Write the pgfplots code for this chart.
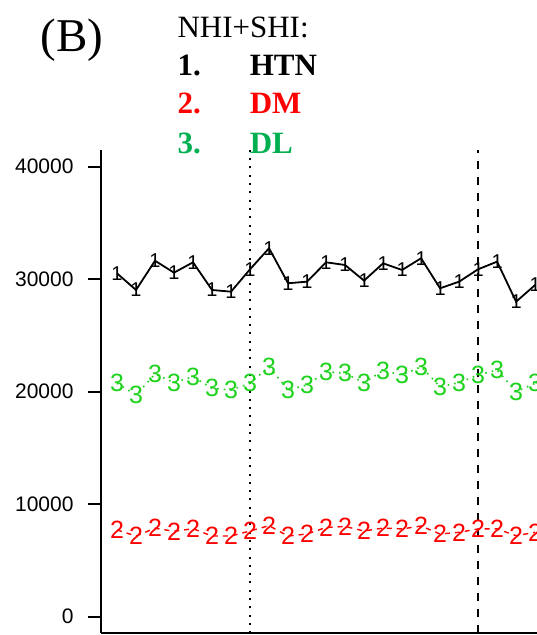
\documentclass[border=0pt]{standalone}
\usepackage{pgfplots}
\pgfplotsset{compat=1.18}
\usepackage{pgfplotstable}
\usepackage{fontspec}
\setmainfont{Liberation Serif}
\newfontfamily\arial{Liberation Sans}
\definecolor{lgreen}{RGB}{0,176,80}
\definecolor{pgreen}{RGB}{30,210,30}
\definecolor{pred}{RGB}{255,0,0}

\pgfplotstableread{
x htn dm dl
0 30520 7710 20750
1 29040 7170 19710
2 31640 7860 21570
3 30580 7590 20800
4 31500 7820 21330
5 29040 7170 20300
6 28890 7170 20150
7 30880 7620 20750
8 32750 8090 22220
9 29640 7170 20150
10 29780 7350 20600
11 31500 7930 21780
12 31260 8020 21640
13 29870 7620 20800
14 31410 7880 21870
15 30820 7800 21480
16 31860 8060 22220
17 29190 7350 20440
18 29780 7500 20800
19 30880 7800 21480
20 31560 7800 21930
21 28000 7200 20000
22 29480 7500 20750
}\datatable

\begin{document}
\begin{tikzpicture}
\path[use as bounding box] (-100.7bp,-1.7bp) rectangle (436.3bp,633.3bp);
\begin{axis}[
  at={(0,0)}, anchor=south west,
  scale only axis,
  width=436.3bp, height=483.3bp,
  xmin=-0.858, xmax=22.1,
  ymin=-1476, ymax=41484,
  axis x line*=bottom, axis y line*=left,
  axis line style={-, line width=1.8bp},
  xtick=\empty,
  ytick={0,10000,20000,30000,40000},
  scaled y ticks=false,
  /pgf/number format/1000 sep={},
  /pgf/number format/assume math mode=true,
  tick align=outside,
  major tick length=13bp,
  tick style={line width=1.8bp, black},
  yticklabel style={font=\arial\fontsize{21bp}{25bp}\selectfont, inner sep=0pt, xshift=-14bp},
  clip=true,
  text mark as node=true,
]
\addplot[black, dash pattern=on 2bp off 6.3bp, line width=1.6bp] coordinates {(7,-1476) (7,41484)};
\addplot[black, dash pattern=on 8bp off 8bp, line width=1.8bp] coordinates {(19,-1476) (19,41484)};
\addplot[black, line width=1.8bp, mark=text, text mark={1},
  text mark style={font=\arial\fontsize{20bp}{22bp}\selectfont, inner sep=0pt, solid}]
  table[x=x, y=htn] {\datatable};
\addplot[pred, line width=1.4bp, dash pattern=on 5bp off 5bp, mark=text, text mark={2},
  text mark style={font=\arial\fontsize{25bp}{26bp}\selectfont, inner sep=0pt, text=pred}]
  table[x=x, y=dm] {\datatable};
\addplot[pgreen, line width=1.6bp, dash pattern=on 1.6bp off 5bp, mark=text, text mark={3},
  text mark style={font=\arial\fontsize{25bp}{26bp}\selectfont, inner sep=0pt, text=pgreen}]
  table[x=x, y=dl] {\datatable};
\end{axis}
\node[anchor=base west, inner sep=0pt, font=\fontsize{47bp}{50bp}\selectfont] at (-60.1bp,581.7bp) {(B)};
\node[anchor=base west, inner sep=0pt, font=\fontsize{31bp}{34bp}\selectfont] at (76.6bp,595.4bp) {NHI+SHI:};
\node[anchor=base west, inner sep=0pt, font=\fontsize{31bp}{34bp}\selectfont\bfseries] at (76.6bp,557.6bp) {1.};
\node[anchor=base west, inner sep=0pt, font=\fontsize{31bp}{34bp}\selectfont\bfseries] at (148.9bp,557.6bp) {HTN};
\node[anchor=base west, inner sep=0pt, font=\fontsize{31bp}{34bp}\selectfont\bfseries, text=pred] at (76.6bp,519.7bp) {2.};
\node[anchor=base west, inner sep=0pt, font=\fontsize{31bp}{34bp}\selectfont\bfseries, text=pred] at (148.9bp,519.7bp) {DM};
\node[anchor=base west, inner sep=0pt, font=\fontsize{31bp}{34bp}\selectfont\bfseries, text=lgreen] at (76.6bp,479.9bp) {3.};
\node[anchor=base west, inner sep=0pt, font=\fontsize{31bp}{34bp}\selectfont\bfseries, text=lgreen] at (148.9bp,479.9bp) {DL};
\end{tikzpicture}
\end{document}
